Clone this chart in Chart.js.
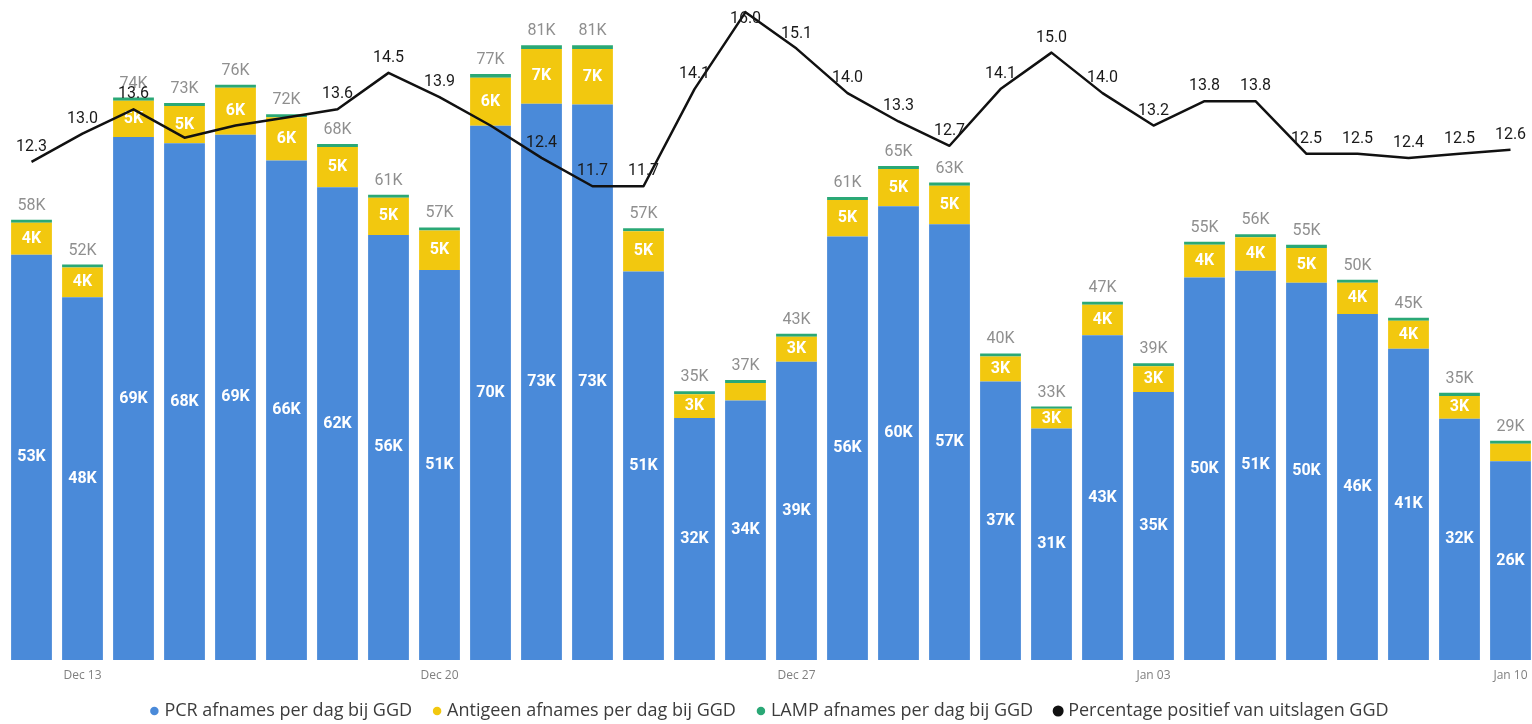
<!DOCTYPE html>
<html>
<head>
<meta charset="utf-8">
<script src="https://cdn.jsdelivr.net/npm/chart.js@4.4.1/dist/chart.umd.min.js"></script>
<style>
html,body{margin:0;padding:0;background:#ffffff;overflow:hidden;}
#wrap{position:relative;width:1537px;height:730px;}
</style>
</head>
<body>
<div id="wrap"><canvas id="c"></canvas></div>
<script>
// ---- data ----
const categories = ['Dec 12','Dec 13','Dec 14','Dec 15','Dec 16','Dec 17','Dec 18','Dec 19','Dec 20','Dec 21',
  'Dec 22','Dec 23','Dec 24','Dec 25','Dec 26','Dec 27','Dec 28','Dec 29','Dec 30','Dec 31',
  'Jan 01','Jan 02','Jan 03','Jan 04','Jan 05','Jan 06','Jan 07','Jan 08','Jan 09','Jan 10'];
const tickLabels = ['Dec 13','Dec 20','Dec 27','Jan 03','Jan 10'];
const seriesNames = ['PCR afnames per dag bij GGD','Antigeen afnames per dag bij GGD',
  'LAMP afnames per dag bij GGD','Percentage positief van uitslagen GGD'];
// thousands of tests per day
const pcr = [53.4,47.8,68.9,68.1,69.2,65.8,62.3,56.0,51.4,70.4,
  73.3,73.2,51.2,31.9,34.2,39.3,55.8,59.8,57.4,36.7,
  30.5,42.8,35.3,50.4,51.3,49.7,45.6,41.0,31.8,26.2];
const antigeen = [4.2,3.9,4.8,4.9,6.2,5.7,5.3,4.9,5.2,6.3,
  7.2,7.3,5.3,3.1,2.3,3.3,4.8,4.9,5.1,3.3,
  2.6,4.0,3.4,4.3,4.4,4.6,4.1,3.7,3.0,2.3];
const lamp = [0.4,0.4,0.4,0.4,0.4,0.4,0.4,0.4,0.4,0.5,
  0.5,0.5,0.4,0.4,0.4,0.4,0.4,0.4,0.4,0.4,
  0.3,0.4,0.4,0.4,0.4,0.4,0.4,0.4,0.4,0.4];
// percent positive
const percentage = [12.3,13.0,13.6,12.9,13.2,13.4,13.6,14.5,13.9,13.2,
  12.4,11.7,11.7,14.1,16.0,15.1,14.0,13.3,12.7,14.1,
  15.0,14.0,13.2,13.8,13.8,12.5,12.5,12.4,12.5,12.6];

// ---- styles ----
const COLORS = ['#4a8ad9','#f2c80f','#2aa876','#111111'];
const LABEL_FONT = 'Roboto, "DejaVu Sans", sans-serif';
const UI_FONT = '"Open Sans", "Noto Sans", sans-serif';

function fmtK(v){ return Math.round(v) + 'K'; }

const dataLabels = {
  id: 'dataLabels',
  afterLayout(chart) {
    // widen the clip area of the x-axis labels (they overlap the legend's top padding)
    const x = chart.scales.x;
    x.bottom = x.top + 32;
  },
  afterDatasetDraw(chart, args) {
    if (args.index !== 0) return; // last bar dataset drawn
    const ctx = chart.ctx;
    const boxes = [];
    const mP = chart.getDatasetMeta(0), mA = chart.getDatasetMeta(1), mL = chart.getDatasetMeta(2);
    ctx.save();
    ctx.textAlign = 'center';
    ctx.textBaseline = 'middle';
    const put = (text, x, y) => {
      ctx.fillText(text, x, y);
      const w = ctx.measureText(text).width;
      boxes.push({l: x - w / 2, r: x + w / 2, t: y - 5, b: y + 5});
    };
    ctx.font = 'bold 16px ' + LABEL_FONT;
    ctx.fillStyle = '#ffffff';
    mP.data.forEach((el, i) => put(fmtK(pcr[i]), el.x, (el.y + el.base) / 2));
    mA.data.forEach((el, i) => {
      if (el.base - el.y >= 18) put(fmtK(antigeen[i]), el.x, (el.y + el.base) / 2);
    });
    ctx.font = '16px ' + LABEL_FONT;
    ctx.fillStyle = '#8f8f8f';
    mL.data.forEach((el, i) => put(fmtK(pcr[i] + antigeen[i] + lamp[i]), el.x, el.y - 14));
    ctx.restore();
    chart.$labelBoxes = boxes;
  },
  afterDatasetsDraw(chart) {
    const ctx = chart.ctx;
    const boxes = chart.$labelBoxes || [];
    const m = chart.getDatasetMeta(3);
    ctx.save();
    ctx.textAlign = 'center';
    ctx.textBaseline = 'middle';
    ctx.font = '16px ' + LABEL_FONT;
    ctx.fillStyle = '#1a1a1a';
    m.data.forEach((el, i) => {
      const text = percentage[i].toFixed(1);
      const y = Math.max(el.y - 15, 19);
      const w = ctx.measureText(text).width;
      const b = {l: el.x - w / 2, r: el.x + w / 2, t: y - 5, b: y + 5};
      const hit = boxes.some(o => b.l < o.r && b.r > o.l && b.t < o.b && b.b > o.t);
      if (!hit) ctx.fillText(text, el.x, y);
    });
    ctx.restore();
  }
};

const barCommon = {
  type: 'bar', yAxisID: 'y', stack: 'tests', order: 1,
  barPercentage: 0.8, categoryPercentage: 1.0, borderWidth: 0
};

new Chart(document.getElementById('c'), {
  data: {
    labels: categories,
    datasets: [
      Object.assign({label: seriesNames[0], data: pcr, backgroundColor: COLORS[0]}, barCommon),
      Object.assign({label: seriesNames[1], data: antigeen, backgroundColor: COLORS[1]}, barCommon),
      Object.assign({label: seriesNames[2], data: lamp, backgroundColor: COLORS[2]}, barCommon),
      {type: 'line', label: seriesNames[3], data: percentage, yAxisID: 'y1', order: 0,
       borderColor: COLORS[3], backgroundColor: COLORS[3], borderWidth: 2.5,
       pointRadius: 0, pointHoverRadius: 0, tension: 0, borderJoinStyle: 'round', clip: false}
    ]
  },
  options: {
    responsive: true,
    maintainAspectRatio: false,
    animation: false,
    layout: {padding: {left: 6, right: 1, top: 0, bottom: 0}},
    plugins: {
      tooltip: {enabled: false},
      legend: {
        position: 'bottom',
        labels: {
          usePointStyle: true, pointStyle: 'circle',
          boxWidth: 2, boxHeight: 6, padding: 24,
          color: '#3c3c3c',
          font: {family: UI_FONT, size: 18},
          sort: (a, b) => a.datasetIndex - b.datasetIndex
        }
      }
    },
    scales: {
      x: {
        stacked: true,
        grid: {display: false, drawTicks: false},
        border: {display: false},
        afterFit: (s) => { s.height = 18; },
        ticks: {
          autoSkip: false, maxRotation: 0, padding: 8,
          color: '#808080', font: {family: UI_FONT, size: 12},
          callback: (v, i) => tickLabels.includes(categories[i]) ? categories[i] : ''
        }
      },
      y: {stacked: true, display: false, min: 0, max: 86.96},
      y1: {display: false, min: 0, max: 16.3}
    }
  },
  plugins: [dataLabels]
});
</script>
</body>
</html>
